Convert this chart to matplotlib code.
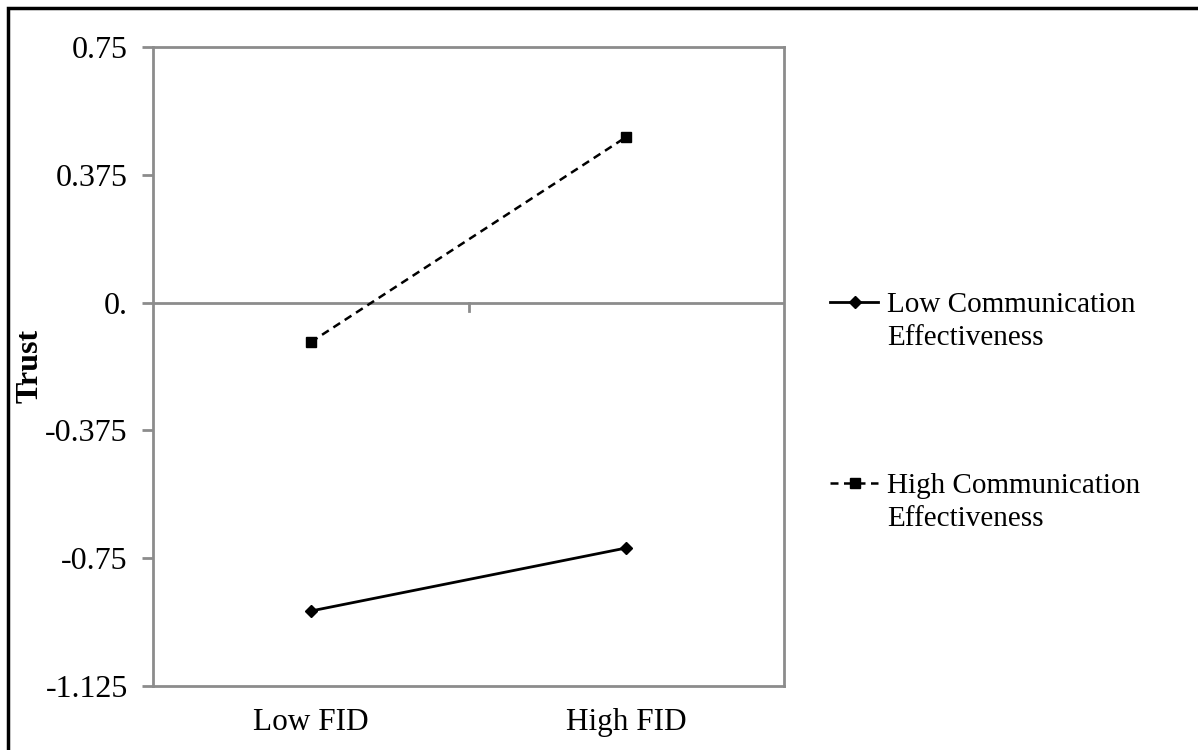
import matplotlib
matplotlib.use("Agg")
import matplotlib.pyplot as plt
from matplotlib.lines import Line2D
from matplotlib.patches import Rectangle

categories = ["Low FID", "High FID"]
series_names = [["Low Communication", "Effectiveness"], ["High Communication", "Effectiveness"]]
low_ce = [-0.905, -0.72]
high_ce = [-0.116, 0.486]
yticks = [-1.125, -0.75, -0.375, 0.0, 0.375, 0.75]
ytick_labels = ["-1.125", "-0.75", "-0.375", "0.", "0.375", "0.75"]

plt.rcParams['font.family'] = ['Liberation Serif', 'DejaVu Serif']

W, H = 1198, 750
fig = plt.figure(figsize=(W / 100, H / 100), dpi=100)
ax = fig.add_axes([153 / W, 1 - 686 / H, 631 / W, 639 / H])

gray = "#8c8c8c"
styles = [
    dict(color="black", linestyle="-", marker="D", markersize=6, linewidth=2),
    dict(color="black", linestyle=(0, (3.2, 2.2)), marker="s", markersize=7, linewidth=1.8),
]
xs = list(range(len(categories)))
for vals, st in zip([low_ce, high_ce], styles):
    ax.plot(xs, vals, **st, zorder=3)

ax.set_xlim(-0.5, len(categories) - 0.5)
ax.set_ylim(yticks[0], yticks[-1])
ax.set_yticks(yticks)
ax.set_yticklabels(ytick_labels, fontsize=23)
ax.tick_params(axis='y', direction='out', length=8, width=2, color=gray, pad=10)
ax.set_xticks([])
for s in ax.spines.values():
    s.set_color(gray)
    s.set_linewidth(2)

# horizontal zero axis with category divider tick
ax.axhline(0, color=gray, linewidth=2, zorder=1)
for k in range(len(categories) - 1):
    ax.plot([k + 0.5, k + 0.5], [0, -0.025], color=gray, linewidth=2, zorder=1)

# category labels below the plot
for i, c in enumerate(categories):
    ax.annotate(c, xy=(i, 0), xycoords=('data', 'axes fraction'), xytext=(0, -26.5),
                textcoords='offset points', ha='center', va='center', fontsize=22.5)

fig.text(30 / W, 1 - 366 / H, "Trust", rotation=90, ha='center', va='center',
         fontsize=23, fontweight='bold')

# legend drawn manually (handle aligned with first text line)
leg_y = [302, 483]
for lines, st, yy in zip(series_names, styles, leg_y):
    yf = 1 - yy / H
    ln = Line2D([830 / W, 878 / W], [yf, yf], transform=fig.transFigure,
                color=st['color'], linestyle=st['linestyle'], linewidth=st['linewidth'])
    fig.add_artist(ln)
    mk = Line2D([855 / W], [yf], transform=fig.transFigure, color=st['color'],
                marker=st['marker'], markersize=st['markersize'], linestyle='none')
    fig.add_artist(mk)
    for j, t in enumerate(lines):
        fig.text(887 / W, 1 - (yy + 33 * j) / H, t, ha='left', va='center_baseline', fontsize=21)

fig.add_artist(Rectangle((8 / W, -0.01), 1.02 - 8 / W, 1 - 8 / H + 0.01,
                         transform=fig.transFigure, fill=False, edgecolor='black',
                         linewidth=2.5, clip_on=False))

fig.savefig("out.png", dpi=100)
